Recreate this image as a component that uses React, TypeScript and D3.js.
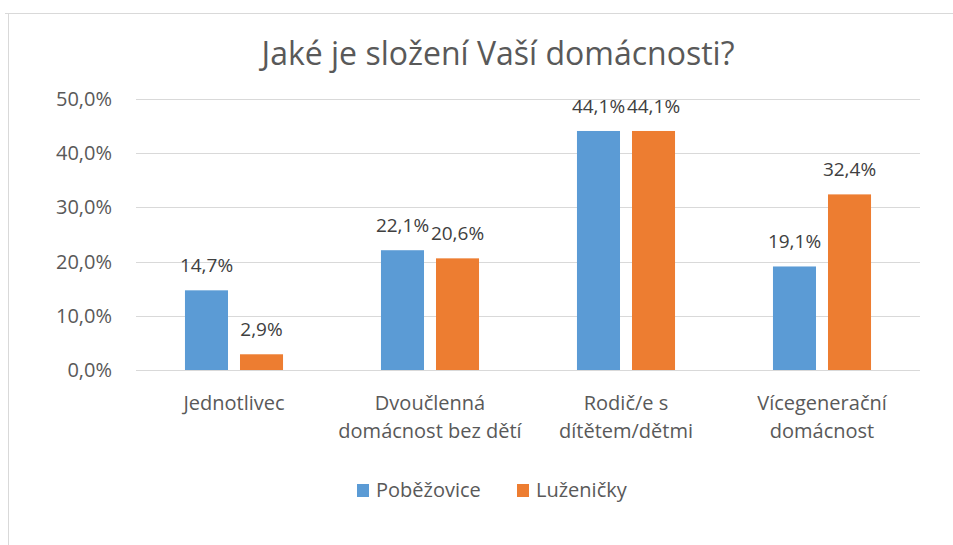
import React, { useEffect, useRef } from 'react';
import * as d3 from 'd3';

const categories = [
  ['Jednotlivec'],
  ['Dvoučlenná', 'domácnost bez dětí'],
  ['Rodič/e s', 'dítětem/dětmi'],
  ['Vícegenerační', 'domácnost'],
];
const seriesNames = ['Poběžovice', 'Luženičky'];
const pobezovice = [14.7, 22.1, 44.1, 19.1];
const luzenicky = [2.9, 20.6, 44.1, 32.4];
const yTicks = [0, 10, 20, 30, 40, 50];
const colors = ['#5B9BD5', '#ED7D31'];

const W = 953;
const H = 545;
const FONT = '"Open Sans", sans-serif';

export default function App() {
  const ref = useRef<SVGSVGElement>(null);

  useEffect(() => {
    const svg = d3.select(ref.current);
    svg.selectAll('*').remove();

    const margin = { top: 99, right: 33, bottom: 175, left: 136 };
    const innerW = W - margin.left - margin.right;
    const innerH = H - margin.top - margin.bottom;

    // chart frame (top + left edges visible)
    svg.append('path')
      .attr('d', `M5,13.5H${W}M8.5,13.5V${H}`)
      .attr('fill', 'none')
      .attr('stroke', '#d9d9d9')
      .attr('stroke-width', 1);

    svg.append('text')
      .attr('x', 498)
      .attr('y', 65)
      .attr('text-anchor', 'middle')
      .attr('font-size', 32)
      .attr('fill', '#595959')
      .style('font-family', FONT)
      .text('Jaké je složení Vaší domácnosti?');

    const g = svg.append('g').attr('transform', `translate(${margin.left},${margin.top})`);

    const x = d3.scaleBand<number>()
      .domain(d3.range(categories.length))
      .range([0, innerW]);
    const x1 = d3.scaleBand<number>()
      .domain([0, 1])
      .range([0, x.bandwidth()])
      .paddingInner(0.218)
      .paddingOuter(0.89);
    const y = d3.scaleLinear().domain([0, 50]).range([innerH, 0]);

    // gridlines
    g.append('g')
      .selectAll('line')
      .data(yTicks)
      .join('line')
      .attr('x1', 0)
      .attr('x2', innerW)
      .attr('y1', d => Math.round(y(d)) + 0.5)
      .attr('y2', d => Math.round(y(d)) + 0.5)
      .attr('stroke', '#d9d9d9')
      .attr('stroke-width', 1);

    g.append('g')
      .selectAll('text')
      .data(yTicks)
      .join('text')
      .attr('x', -24)
      .attr('y', d => y(d))
      .attr('dy', '0.35em')
      .attr('text-anchor', 'end')
      .attr('font-size', 20)
      .attr('fill', '#595959')
      .style('font-family', FONT)
      .text(d => d.toFixed(1).replace('.', ',') + '%');

    const series = [pobezovice, luzenicky];
    series.forEach((vals, s) => {
      const grp = g.append('g');
      grp.selectAll('rect')
        .data(vals)
        .join('rect')
        .attr('x', (d, i) => x(i)! + x1(s)!)
        .attr('y', d => y(d))
        .attr('width', x1.bandwidth())
        .attr('height', d => innerH - y(d))
        .attr('fill', colors[s]);
      grp.selectAll('text')
        .data(vals)
        .join('text')
        .attr('x', (d, i) => x(i)! + x1(s)! + x1.bandwidth() / 2)
        .attr('y', d => y(d) - 18)
        .attr('text-anchor', 'middle')
        .attr('font-size', 19)
        .attr('fill', '#404040')
        .style('font-family', FONT)
        .text(d => d.toFixed(1).replace('.', ',') + '%');
    });

    // category labels
    const cat = g.append('g')
      .selectAll('text')
      .data(categories)
      .join('text')
      .attr('x', (d, i) => x(i)! + x.bandwidth() / 2)
      .attr('y', innerH + 40)
      .attr('text-anchor', 'middle')
      .attr('font-size', 20)
      .attr('fill', '#595959')
      .style('font-family', FONT);
    cat.selectAll('tspan')
      .data(d => d)
      .join('tspan')
      .attr('x', function () {
        return (this.parentNode as SVGTextElement).getAttribute('x');
      })
      .attr('dy', (d, i) => (i === 0 ? 0 : 28))
      .text(d => d);

    // legend
    const legendX = [357, 517];
    seriesNames.forEach((name, s) => {
      svg.append('rect')
        .attr('x', legendX[s])
        .attr('y', 484)
        .attr('width', 12)
        .attr('height', 13)
        .attr('fill', colors[s]);
      svg.append('text')
        .attr('x', legendX[s] + 19)
        .attr('y', 497)
        .attr('font-size', 20)
        .attr('fill', '#595959')
        .style('font-family', FONT)
        .text(name);
    });
  }, []);

  return (
    <svg ref={ref} width={W} height={H} style={{ position: 'absolute', left: 0, top: 0, background: '#fff' }} />
  );
}
